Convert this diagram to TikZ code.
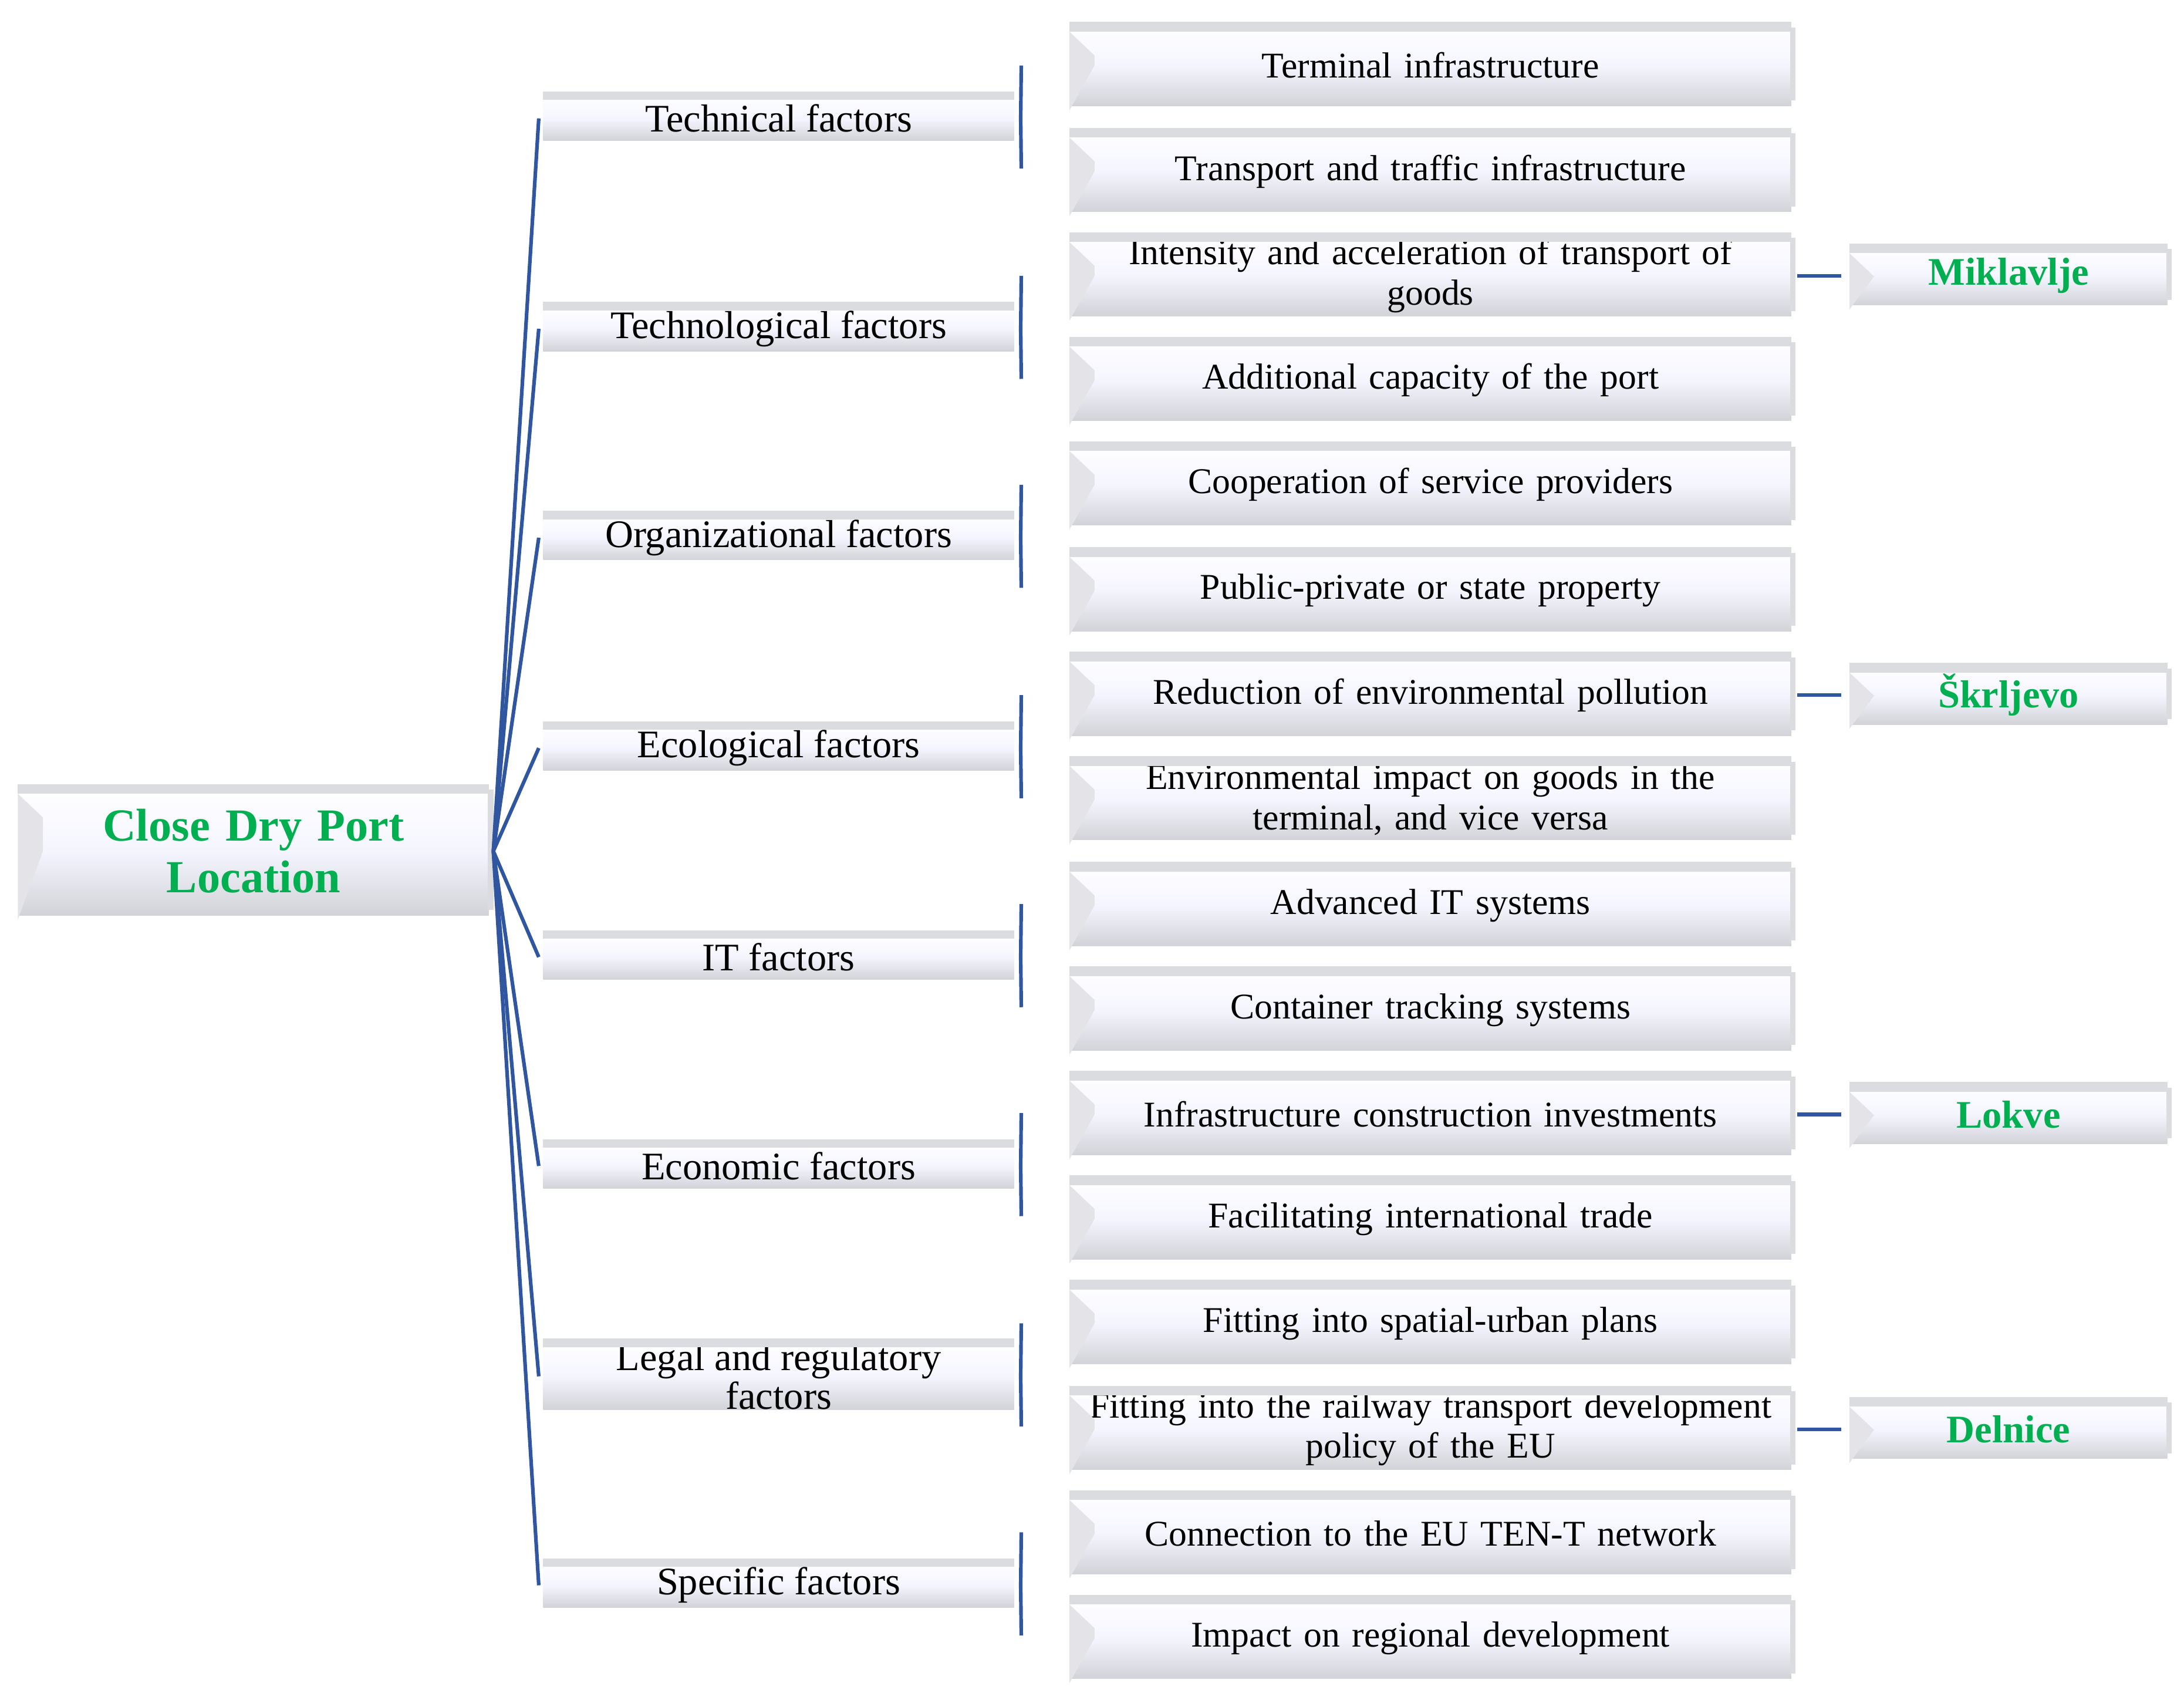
\documentclass[tikz,border=0pt]{standalone}
\usepackage{fontspec}
\setmainfont{Liberation Serif}
\definecolor{lb}{HTML}{3056A0}
\definecolor{gr}{HTML}{00B050}
\definecolor{bev}{HTML}{D2D3D8}
\begin{document}
\begin{tikzpicture}[x=1pt,y=-1pt,
  box/.style={rectangle, inner sep=0pt, align=center, top color=white, bottom color=bev, middle color=white!96!blue,
    font=\fontsize{26}{29}\selectfont},
  b1/.style={box, minimum width=338pt, minimum height=32pt, font=\fontsize{28}{32}\selectfont},
  b2/.style={box, minimum width=518pt, minimum height=58pt, text width=518pt},
  b3/.style={box, minimum width=228pt, minimum height=42pt, text=gr, font=\bfseries\fontsize{28}{30}\selectfont},
  root/.style={box, minimum width=338pt, minimum height=92pt, text width=330pt, text=gr, font=\bfseries\fontsize{33}{37}\selectfont},
  ln/.style={lb, line width=2.6pt}]
\useasboundingbox (0,0) rectangle (1568,1220);
\newcommand{\strip}[1]{%
  \fill[bev!80] ([yshift=2pt]#1.north west) rectangle ([yshift=-5pt]#1.north east);
  \fill[bev!80] ([xshift=-1pt,yshift=-2pt]#1.north east) rectangle ([xshift=3pt,yshift=4pt]#1.south east);
  \fill[bev!60] ([yshift=-5pt]#1.north west) -- ([xshift=18pt,yshift=-22pt]#1.north west) -- ([xshift=18pt]#1.west) -- ([yshift=-3pt]#1.south west) -- cycle;}
\node[root] (r) at (182,611) {Close Dry Port\\Location};
\strip{r}
\foreach \n/\y/\t in {a/85/Technical factors, b/236/Technological factors, c/386/Organizational factors, d/537/Ecological factors, e/687/IT factors, f/837/Economic factors, g/988/{Legal and regulatory\\[-4pt]factors}, h/1138/Specific factors}{
  \node[b1, align=center] (\n) at (559,\y) {\t};
}
\foreach \n in {a,b,c,d,e,f,g,h}{\fill[bev!80] ([yshift=3pt]\n.north west) rectangle ([yshift=-3pt]\n.north east);}
\foreach \n/\y/\t in {
 a1/47/Terminal infrastructure, a2/123/Transport and traffic infrastructure,
 b1/198/{Intensity and acceleration of transport of\\goods}, b2/273/Additional capacity of the port,
 c1/348/Cooperation of service providers, c2/424/Public-private or state property,
 d1/499/Reduction of environmental pollution, d2/574/{Environmental impact on goods in the\\terminal, and vice versa},
 e1/650/Advanced IT systems, e2/725/Container tracking systems,
 f1/800/Infrastructure construction investments, f2/875/Facilitating international trade,
 g1/950/Fitting into spatial-urban plans, g2/1026/{Fitting into the railway transport development\\policy of the EU},
 h1/1101/Connection to the EU TEN-T network, h2/1176/Impact on regional development}{
  \node[b2] (\n) at (1027,\y) {\t};
  \strip{\n}
}
\foreach \n/\y/\t in {m/198/Miklavlje, s/499/Škrljevo, l/800/Lokve, dd/1026/Delnice}{
  \node[b3] (\n) at (1442,\y) {\t};
  \strip{\n}
}
\foreach \n in {a,b,c,d,e,f,g,h}{
  \draw[ln] ([xshift=3pt]r.east) -- ([xshift=-3pt]\n.west);
  \draw[ln] ([xshift=5pt,yshift=-36pt]\n.east) -- ([xshift=-35pt]\n1.west |- \n.east) -- ([xshift=5pt,yshift=38pt]\n.east);
}
\draw[ln] ([xshift=4pt]b1.east) -- ([xshift=-6pt]m.west);
\draw[ln] ([xshift=4pt]d1.east) -- ([xshift=-6pt]s.west);
\draw[ln] ([xshift=4pt]f1.east) -- ([xshift=-6pt]l.west);
\draw[ln] ([xshift=4pt]g2.east) -- ([xshift=-6pt]dd.west);
\end{tikzpicture}
\end{document}
